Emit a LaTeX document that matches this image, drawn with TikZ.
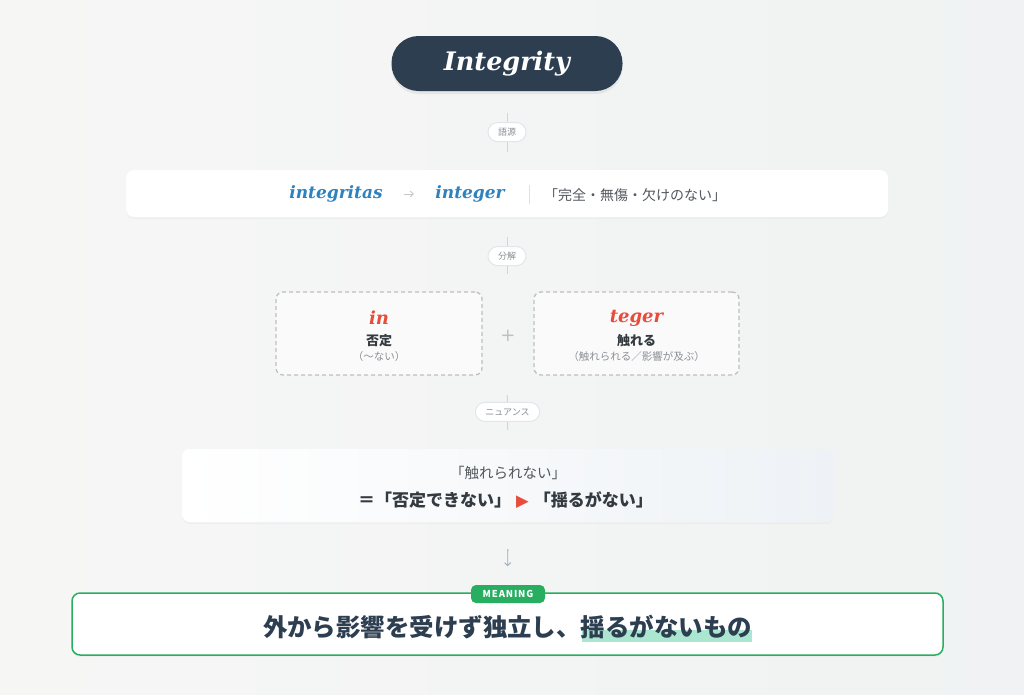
\documentclass[tikz,border=0pt]{standalone}
\usepackage{fontspec}
\setmainfont{Noto Sans CJK JP}
\newfontfamily\etymfont{DejaVu Serif}
\newfontfamily\symfont{DejaVu Sans}
\usepackage{xcolor}
\usetikzlibrary{
    arrows.meta,
    shapes,
    positioning,
    shadows,
    calc
}
\definecolor{navy}{HTML}{2C3E50}
\definecolor{latin-blue}{HTML}{2E82BE}
\definecolor{accent-red}{HTML}{E74C3C}
\definecolor{mean-green}{HTML}{27AE60}
\definecolor{mint}{HTML}{ABE6D0}
\definecolor{stem-gray}{HTML}{CDD5DF}
\definecolor{arrow-gray}{HTML}{9AAAB8}
\definecolor{soft-gray}{HTML}{8A8F94}
\definecolor{ink}{HTML}{333A40}
\definecolor{bg-a}{HTML}{F9F9F7}
\definecolor{bg-b}{HTML}{EDF0F1}
\definecolor{card-b}{HTML}{EEF2F6}
\pgfdeclarehorizontalshading{page-bg}{100bp}{color(0bp)=(bg-a); color(100bp)=(bg-b)}

\begin{document}
\begin{tikzpicture}[x=1pt, y=-1pt, >=stealth,
    title-node/.style={rectangle, rounded corners=27pt, fill=navy, text=white,
        minimum width=231pt, minimum height=55pt,
        font=\etymfont\bfseries\itshape\fontsize{25.5}{30}\selectfont,
        drop shadow={opacity=0.12, shadow xshift=0pt, shadow yshift=-3pt}},
    card-node/.style={rectangle, rounded corners=8pt, fill=white,
        drop shadow={opacity=0.05, shadow xshift=0pt, shadow yshift=-2pt}},
    tag-pill/.style={rectangle, rounded corners=9.5pt, fill=white, draw=stem-gray!60,
        minimum height=19pt, inner xsep=10pt, inner ysep=0pt, text=soft-gray,
        font=\fontsize{9}{10}\selectfont},
    stem/.style={draw=stem-gray, line width=1pt},
    latin-word/.style={text=latin-blue, font=\etymfont\bfseries\itshape\fontsize{17}{20}\selectfont},
    part-box/.style={rectangle, rounded corners=7pt, fill=black!2!white, draw=black!25,
        line width=1.3pt, dash pattern=on 4pt off 3pt, minimum width=206pt, minimum height=83pt},
    part-word/.style={text=accent-red, font=\etymfont\bfseries\itshape\fontsize{18}{20}\selectfont},
    part-sense/.style={text=ink, font=\bfseries\fontsize{13}{15}\selectfont},
    part-note/.style={text=soft-gray, font=\fontsize{10.5}{12}\selectfont}]
\useasboundingbox (0,0) rectangle (1024,694);
\shade [shading=page-bg] (0,0) rectangle (1024,694);

\node [title-node] (title) at (507,63.5) {Integrity};

\node [card-node, minimum width=762pt, minimum height=47pt] (etym) at (507,193.5) {};
\node [latin-word] (etym-from) at (336,194) {integritas};
\node [latin-word] (etym-to) at (470,194) {integer};
\draw [-{Straight Barb[length=3pt,width=6pt]}, draw=black!22, line width=0.9pt, shorten <=18pt, shorten >=18pt] (etym-from) -- (etym-to);
\draw [draw=black!12, line width=1pt] (529,185) -- (529,204);
\node [text=ink!85, font=\fontsize{14}{16}\selectfont] (etym-gloss) at (635,195) {「完全・無傷・欠けのない」};

\draw [stem, shorten <=22pt, shorten >=18pt] (title.south) -- (etym.north)
    node [tag-pill, pos=0.52] (tag-origin) {語源};

\coordinate (split) at (507,292);
\draw [stem, shorten <=20pt, shorten >=18pt] (etym.south) -- (split)
    node [tag-pill, pos=0.52] (tag-split) {分解};

\node [part-box] (part-in) at (379,333.5) {};
\node [part-word] (in-word) at (379,318) {in};
\node [part-sense] (in-sense) at (379,341) {否定};
\node [part-note] (in-note) at (379,357) {（〜ない）};

\node [part-box, minimum width=205pt] (part-teger) at (636.5,333.5) {};
\node [part-word] (teger-word) at (636.5,318) {teger};
\node [part-sense] (teger-sense) at (636.5,341) {触れる};
\node [part-note] (teger-note) at (636.5,357) {（触れられる／影響が及ぶ）};

\node [text=black!25, font=\symfont\fontsize{18}{20}\selectfont] (plus) at (508,336) {+};

\coordinate (join) at (507,375);
\node [card-node, left color=white, right color=card-b,
    minimum width=652pt, minimum height=73pt] (nuance) at (508,485.5) {};
\draw [stem, shorten <=20pt, shorten >=19pt] (join) -- (nuance.north)
    node [tag-pill, pos=0.5] (tag-nuance) {ニュアンス};
\node [text=ink!85, font=\fontsize{14.5}{16}\selectfont] (nuance-quote) at (508,473) {「触れられない」};
\node [text=ink, font=\bfseries\fontsize{17}{19}\selectfont] (nuance-claim) at (505.5,500)
    {＝「否定できない」\hspace{5pt}{\color{accent-red}\symfont\fontsize{16.5}{19}\selectfont ▶}\hspace{5pt}「揺るがない」};

\node [card-node, draw=mean-green, line width=1.5pt, minimum width=871pt, minimum height=62pt] (meaning) at (507.5,624) {};
\draw [-{Straight Barb[length=3pt,width=6pt]}, draw=arrow-gray, line width=0.9pt, shorten <=27pt, shorten >=26pt] (nuance.south) -- (meaning.north);
\fill [mint] (582,630) rectangle (752,642);
\node [text=navy, font=\bfseries\fontsize{24.45}{28}\selectfont] (meaning-text) at (507.5,627) {外から影響を受けず独立し、揺るがないもの};
\node [rectangle, rounded corners=5pt, fill=mean-green, text=white, minimum width=74pt, minimum height=18pt,
    inner sep=0pt, font=\bfseries\fontsize{9.5}{10}\selectfont\addfontfeatures{LetterSpace=9}] (meaning-tag) at (508,594) {MEANING};
\end{tikzpicture}
\end{document}
